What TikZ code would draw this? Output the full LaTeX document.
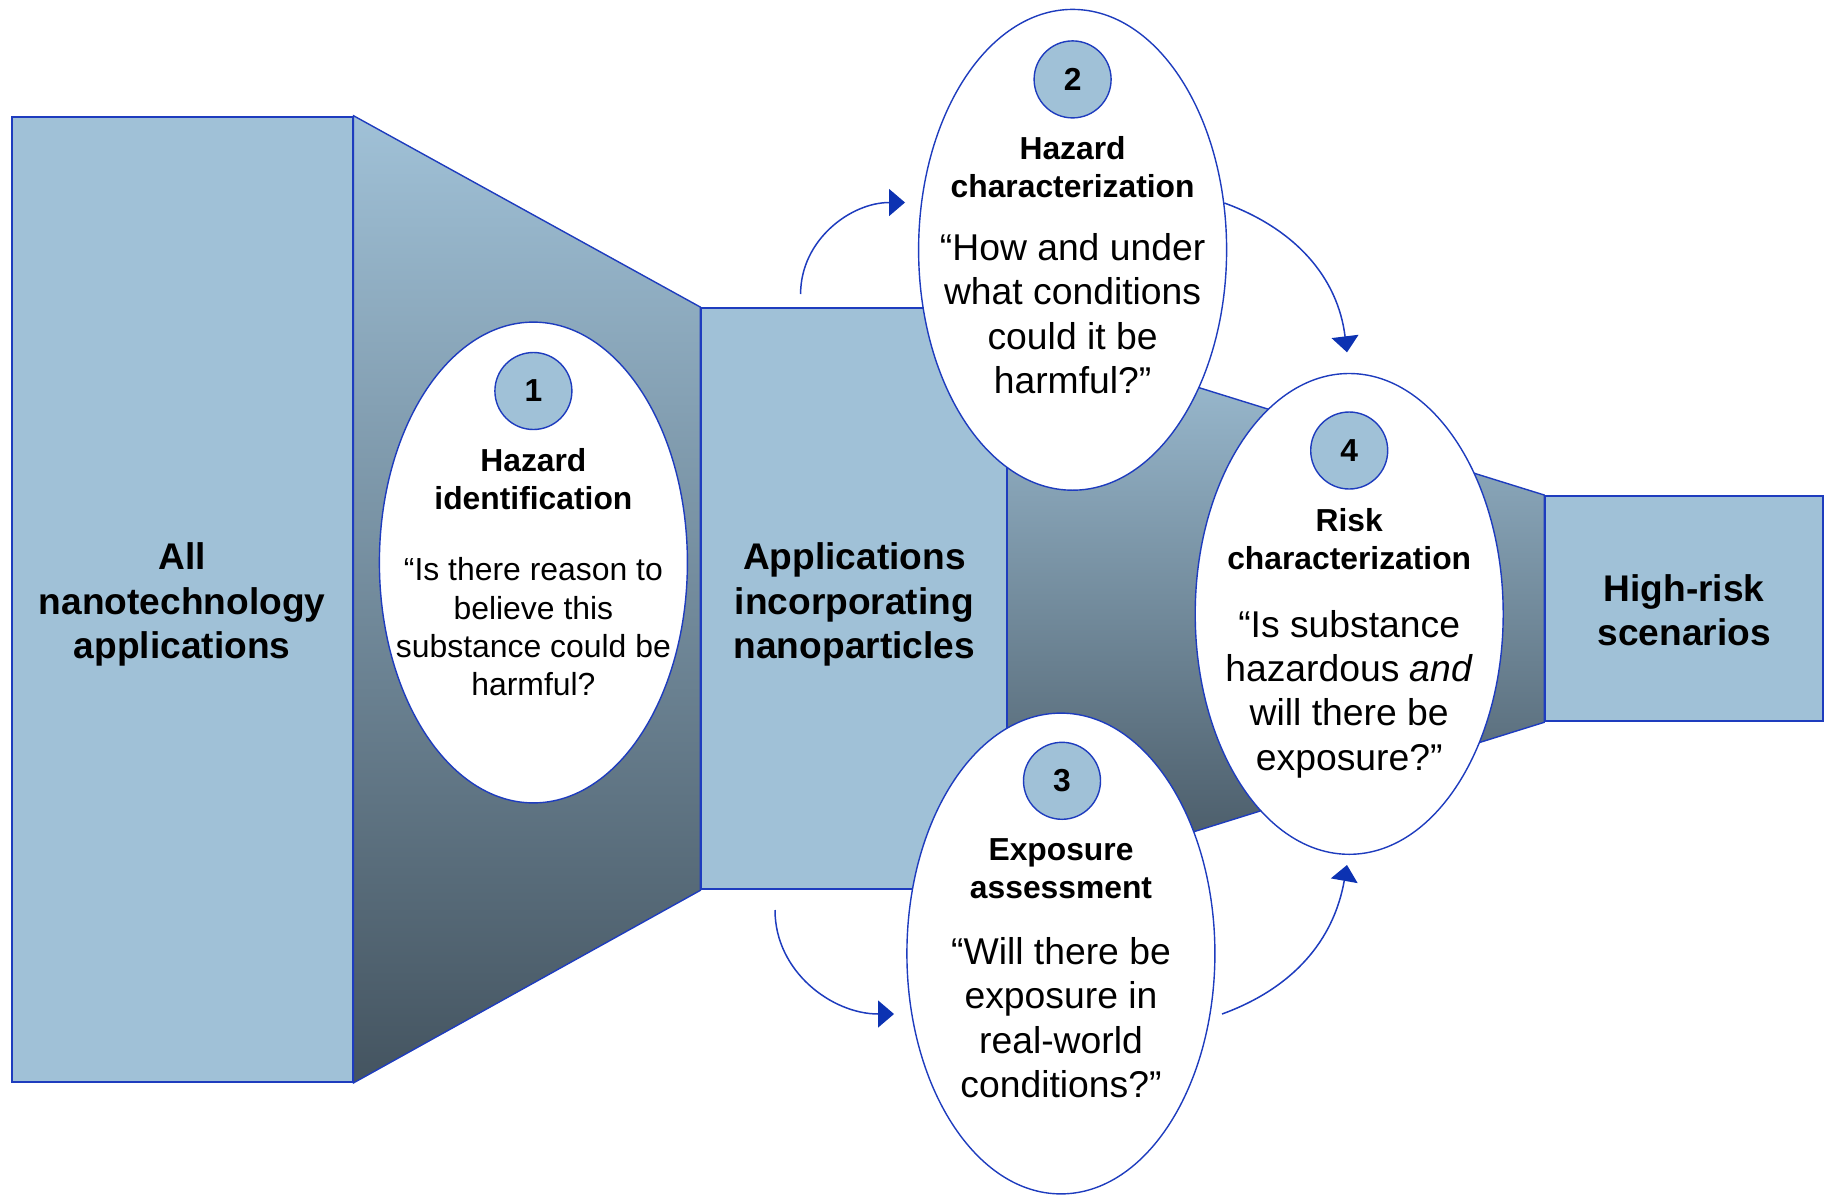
\documentclass[tikz,border=0pt]{standalone}
\usepackage{fontspec}
\setmainfont{Liberation Sans}
\usetikzlibrary{shapes.geometric,arrows.meta}

\definecolor{paneblue}{RGB}{160,193,215}
\definecolor{edgeblue}{RGB}{30,60,190}
\definecolor{tipblue}{RGB}{12,50,178}
\definecolor{slate}{RGB}{68,84,96}

\tikzset{
  slab/.style={rectangle, fill=paneblue, draw=edgeblue, line width=1pt, inner sep=0pt},
  funnel/.style={top color=paneblue, bottom color=slate, draw=edgeblue, line width=0.7pt},
  stage/.style={ellipse, draw=edgeblue, fill=white, line width=0.7pt,
                minimum width=154pt, minimum height=240.4pt, inner sep=0pt},
  badge/.style={circle, draw=edgeblue, fill=paneblue, line width=0.7pt,
                minimum size=38.5pt, inner sep=0pt,
                font=\bfseries\fontsize{15.9}{19}\selectfont},
  biglabel/.style={align=center, inner sep=0pt,
                   font=\bfseries\fontsize{18.55}{22.2}\selectfont},
  ttl/.style={align=center, inner sep=0pt,
              font=\bfseries\fontsize{15.9}{19.1}\selectfont},
  qsmall/.style={align=center, inner sep=0pt,
                 font=\fontsize{15.95}{19.05}\selectfont},
  qlarge/.style={align=center, inner sep=0pt,
                 font=\fontsize{18.65}{22.2}\selectfont},
  flow/.style={draw=edgeblue, line width=0.75pt,
               -{Triangle[length=8pt,width=13.5pt,color=tipblue]}}
}

\begin{document}
\begin{tikzpicture}[x=0.5pt, y=-0.5pt]
\useasboundingbox (0,0) rectangle (1830,1194);

% main stages of the funnel
\node[slab, minimum width=170.4pt, minimum height=482.6pt] (all) at (182.1,599.3) {};
\node[slab, minimum width=152.9pt, minimum height=290.6pt] (apps) at (854.3,598.7) {};
\node[slab, minimum width=138.9pt, minimum height=112.65pt] (risk) at (1684.1,608.65) {};

% tapering sections between the stages
\path[funnel] (all.north east) -- (apps.north west) -- (apps.south west) -- (all.south east) -- cycle;
\path[funnel] (1007.2,328) -- (risk.north west) -- (risk.south west) -- (1007.2,890) -- cycle;

% redraw the stage boxes over the shaded sections
\node[slab, minimum width=170.4pt, minimum height=482.6pt] at (all) {};
\node[slab, minimum width=152.9pt, minimum height=290.6pt] at (apps) {};
\node[slab, minimum width=138.9pt, minimum height=112.65pt] at (risk) {};

\node[biglabel] (allT) at (182.1,604.5) {All\\nanotechnology\\applications};
\node[biglabel] (appsT) at (854.3,604.5) {Applications\\incorporating\\nanoparticles};
\node[biglabel] (riskT) at (1684.1,610) {High-risk\\scenarios};

% assessment steps
\node[stage] (e1) at (533.4,562.5) {};
\node[stage] (e2) at (1072.6,249.8) {};
\node[stage] (e3) at (1060.9,953.5) {};
\node[stage] (e4) at (1349.2,613.9) {};

\node[badge] (c1) at (533.4,391) {1};
\node[badge] (c2) at (1072.6,79.4) {2};
\node[badge] (c3) at (1062,780.8) {3};
\node[badge] (c4) at (1349.2,450.5) {4};

\node[ttl] (t1) at (533.4,479) {Hazard\\identification};
\node[qsmall] (q1) at (533.4,626.7) {“Is there reason to\\believe this\\substance could be\\harmful?};

\node[ttl] (t2) at (1072.6,166.9) {Hazard\\characterization};
\node[qlarge] (q2) at (1072.6,313.5) {“How and under\\what conditions\\could it be\\harmful?”};

\node[ttl] (t3) at (1061,868.9) {Exposure\\assessment};
\node[qlarge] (q3) at (1061,1017.7) {“Will there be\\exposure in\\real-world\\conditions?”};

\node[ttl] (t4) at (1349.2,539.5) {Risk\\characterization};
\node[qlarge] (q4) at (1349.2,694) {“Is substance\\hazardous \textit{and}\\will there be\\exposure?”};

% flow arrows between the steps
\coordinate (aS) at (800.6,294);
\coordinate (aE) at (905,202.5);
\coordinate (bS) at (1224.3,203);
\coordinate (bE) at (1347,352.3);
\coordinate (cS) at (775,910);
\coordinate (cE) at (894,1014);
\coordinate (dS) at (1222,1014);
\coordinate (dE) at (1347,865);

\draw[flow] (aS) to[out=90, in=180] (aE);
\draw[flow] (bS) to[out=-20, in=97] (bE);
\draw[flow] (cS) to[out=-90, in=180] (cE);
\draw[flow] (dS) to[out=20, in=-100] (dE);
\end{tikzpicture}
\end{document}
